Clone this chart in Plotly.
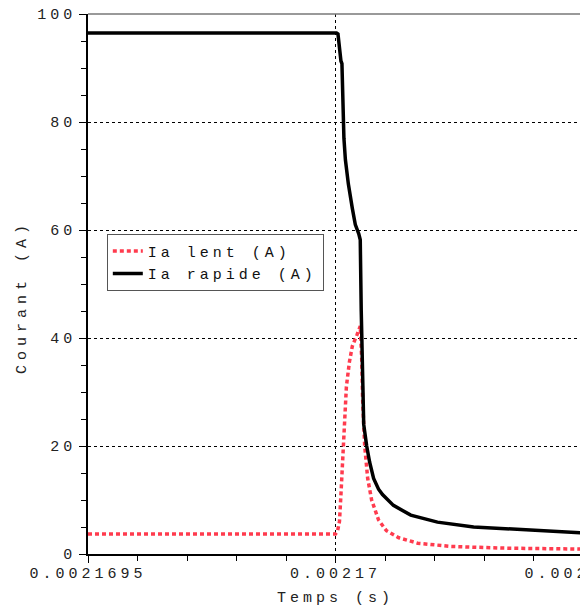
import plotly.graph_objects as go

# ---- data ----
t_rapide = [0.0021695, 0.002170002, 0.002170005, 0.002170008, 0.002170011, 0.002170013,
            0.002170015, 0.002170017, 0.00217002, 0.002170026, 0.002170034, 0.00217004,
            0.002170047, 0.00217005, 0.002170052, 0.002170054, 0.002170057, 0.002170063,
            0.002170069, 0.002170077, 0.002170087, 0.002170095, 0.002170117, 0.002170152,
            0.002170206, 0.002170279, 0.002170401, 0.002170502]
ia_rapide = [96.5, 96.5, 96.3, 93.0, 91.3, 90.8,
             82.0, 77.0, 73.0, 68.5, 64.0, 61.0,
             59.3, 58.2, 45.0, 32.0, 24.0, 20.0,
             17.0, 14.0, 12.0, 11.0, 9.0, 7.2,
             5.9, 5.0, 4.4, 3.9]

t_lent = [0.0021695, 0.00217, 0.002170004, 0.002170008, 0.002170011, 0.002170014,
          0.002170018, 0.002170022, 0.002170028, 0.002170034, 0.002170043, 0.00217005,
          0.002170053, 0.002170055, 0.002170059, 0.002170065, 0.002170073, 0.002170087,
          0.002170103, 0.002170128, 0.002170166, 0.002170233, 0.002170334, 0.002170502]
ia_lent = [3.7, 3.7, 4.2, 6.0, 11.0, 17.0,
           25.0, 31.0, 35.5, 38.5, 40.5, 42.2,
           36.0, 28.0, 20.0, 14.0, 10.0, 6.3,
           4.3, 3.0, 2.0, 1.4, 1.1, 0.9]

x_tickvals = [0.0021695, 0.00217, 0.0021705]
x_ticktext = ["0.0021695", "0.00217", "0.0021705"]
y_tickvals = [0, 20, 40, 60, 80, 100]
y_ticktext = ["0", "20", "40", "60", "80", "100"]

name_lent = "Ia lent (A)"
name_rapide = "Ia rapide (A)"
x_title = "Temps (s)"
y_title = "Courant (A)"


def sp(s, ls=4):
    return f'<span style="letter-spacing:{ls}px">{s}</span>'


FONT = "Liberation Mono, DejaVu Sans Mono, monospace"

fig = go.Figure()
fig.add_trace(go.Scatter(x=t_lent, y=ia_lent, mode="lines", name=sp(name_lent),
                         line=dict(color="#ff3b4e", width=3.5, dash="4px,3px")))
fig.add_trace(go.Scatter(x=t_rapide, y=ia_rapide, mode="lines", name=sp(name_rapide),
                         line=dict(color="black", width=3.5)))

fig.update_layout(
    width=580, height=600,
    margin=dict(l=80, r=5, t=6, b=54),
    plot_bgcolor="white", paper_bgcolor="white",
    font=dict(family=FONT, size=15, color="#222"),
    showlegend=True,
    legend=dict(x=0.038, y=0.593, xanchor="left", yanchor="top",
                bordercolor="#555", borderwidth=1, bgcolor="white",
                font=dict(family=FONT, size=15, color="#111"),
                tracegroupgap=0),
    xaxis=dict(range=[0.0021695, 0.0021705], tickmode="array",
               tickvals=x_tickvals, ticktext=[sp(s) for s in x_ticktext],
               ticks="outside", ticklen=7, tickcolor="black", tickwidth=1,
               ticklabelstandoff=-3, ticklabeloverflow="allow",
               showline=True, linecolor="black", linewidth=1.5,
               showgrid=True, gridcolor="black", gridwidth=1, griddash="3px,3px",
               zeroline=False,
               minor=dict(tickmode="linear", tick0=0.0021695, dtick=1e-7, ticks="outside",
                          ticklen=5, tickcolor="black", showgrid=False),
               title=dict(text=sp(x_title), standoff=10, font=dict(size=15)),
               automargin=False),
    yaxis=dict(range=[0, 100], tickmode="array",
               tickvals=y_tickvals, ticktext=[sp(s) for s in y_ticktext],
               ticks="outside", ticklen=7, tickcolor="black", tickwidth=1,
               ticklabeloverflow="allow",
               showline=True, linecolor="black", linewidth=1.5,
               showgrid=True, gridcolor="black", gridwidth=1, griddash="3px,3px",
               zeroline=False,
               minor=dict(tickmode="linear", tick0=0, dtick=5, ticks="outside",
                          ticklen=5, tickcolor="black", showgrid=False),
               automargin=False),
)

# y-axis title as a rotated annotation (placed like the reference)
fig.add_annotation(text=sp(y_title, 5), xref="paper", yref="paper",
                   x=-66 / 495, y=(546 - 289) / 540, xanchor="center", yanchor="middle",
                   textangle=-90, showarrow=False, font=dict(family=FONT, size=15, color="#222"))

fig.add_shape(type="line", xref="paper", yref="paper", x0=0, x1=1, y0=1, y1=1,
              line=dict(color="#777", width=1.5))
fig.add_shape(type="line", xref="paper", yref="paper", x0=1, x1=1, y0=0, y1=1,
              line=dict(color="#777", width=1.5))

fig.write_html("out.html")
